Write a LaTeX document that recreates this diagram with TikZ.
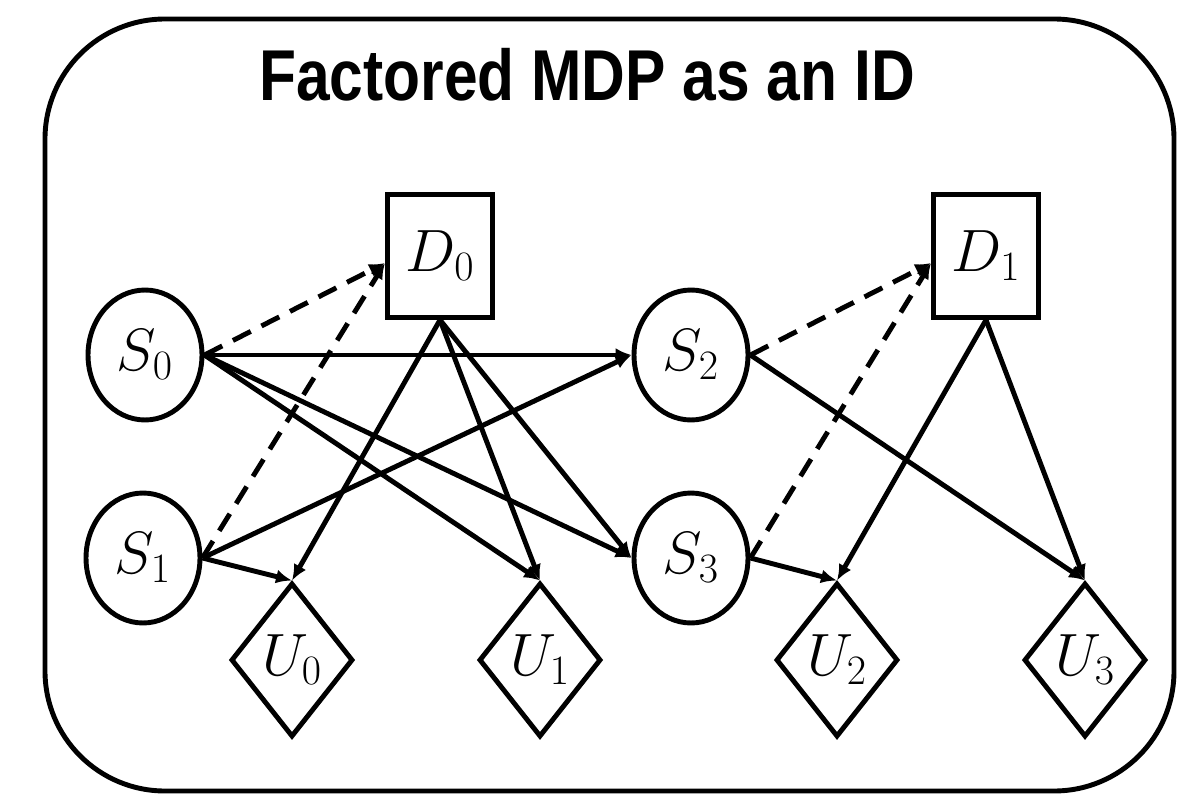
\RequirePackage{fix-cm}
\documentclass[tikz,border=0pt]{standalone}
\usepackage[no-math]{fontspec}
\usepackage{graphicx}
\newfontfamily\titlefont{Liberation Sans}
\usetikzlibrary{shapes.geometric,arrows.meta}

\tikzset{
  fig-state/.style={draw, ellipse, minimum width=2.28cm, minimum height=2.6cm, inner sep=0pt},
  fig-decision/.style={draw, rectangle, minimum width=2.1cm, minimum height=2.46cm, inner sep=0pt},
  fig-utility/.style={draw, diamond, minimum width=2.44cm, minimum height=3.08cm, inner sep=0pt},
  fig-edge/.style={-{Latex[length=0.32cm,width=0.28cm]}},
  fig-info/.style={fig-edge, dash pattern=on 0.4cm off 0.24cm}
}

\begin{document}
\begin{tikzpicture}[x=0.02cm, y=-0.02cm, line width=2.8pt,
    every node/.style={font=\fontsize{34}{40}\selectfont}]
    \useasboundingbox (0,0) rectangle (1180,797);
    \draw[rounded corners=2.4cm] (45,19) rectangle (1174,791);
    \node (title) at (587,75) {\scalebox{0.84}[1]{\titlefont\fontsize{41}{48}\selectfont\bfseries Factored MDP as an ID}};

    \node[fig-state] (s0) at (145,355) {$S_0$};
    \node[fig-state] (s1) at (143,558) {$S_1$};
    \node[fig-state] (s2) at (691,355) {$S_2$};
    \node[fig-state] (s3) at (691,558) {$S_3$};

    \node[fig-decision] (d0) at (440,256) {$D_0$};
    \node[fig-decision] (d1) at (986,256) {$D_1$};

    \node[fig-utility] (u0) at (292,660) {$U_0$};
    \node[fig-utility] (u1) at (540,660) {$U_1$};
    \node[fig-utility] (u2) at (837,660) {$U_2$};
    \node[fig-utility] (u3) at (1085,660) {$U_3$};

    \coordinate (d0in) at ([yshift=-0.14cm]d0.west);
    \coordinate (d1in) at ([yshift=-0.14cm]d1.west);

    % observations before each decision
    \draw[fig-info] (s0.east) -- (d0in);
    \draw[fig-info] (s1.east) -- (d0in);
    \draw[fig-info] (s2.east) -- (d1in);
    \draw[fig-info] (s3.east) -- (d1in);

    % transitions
    \draw[fig-edge] (s0.east) -- (s2.west);
    \draw[fig-edge] (s1.east) -- (s2.west);
    \draw[fig-edge] (s0.east) -- (s3.west);
    \draw[fig-edge] (d0.south) -- (s3.west);

    % rewards
    \draw[fig-edge] (s1.east) -- (u0.north);
    \draw[fig-edge] (d0.south) -- (u0.north);
    \draw[fig-edge] (s0.east) -- (u1.north);
    \draw[fig-edge] (d0.south) -- (u1.north);
    \draw[fig-edge] (s3.east) -- (u2.north);
    \draw[fig-edge] (d1.south) -- (u2.north);
    \draw[fig-edge] (s2.east) -- (u3.north);
    \draw[fig-edge] (d1.south) -- (u3.north);
\end{tikzpicture}
\end{document}
